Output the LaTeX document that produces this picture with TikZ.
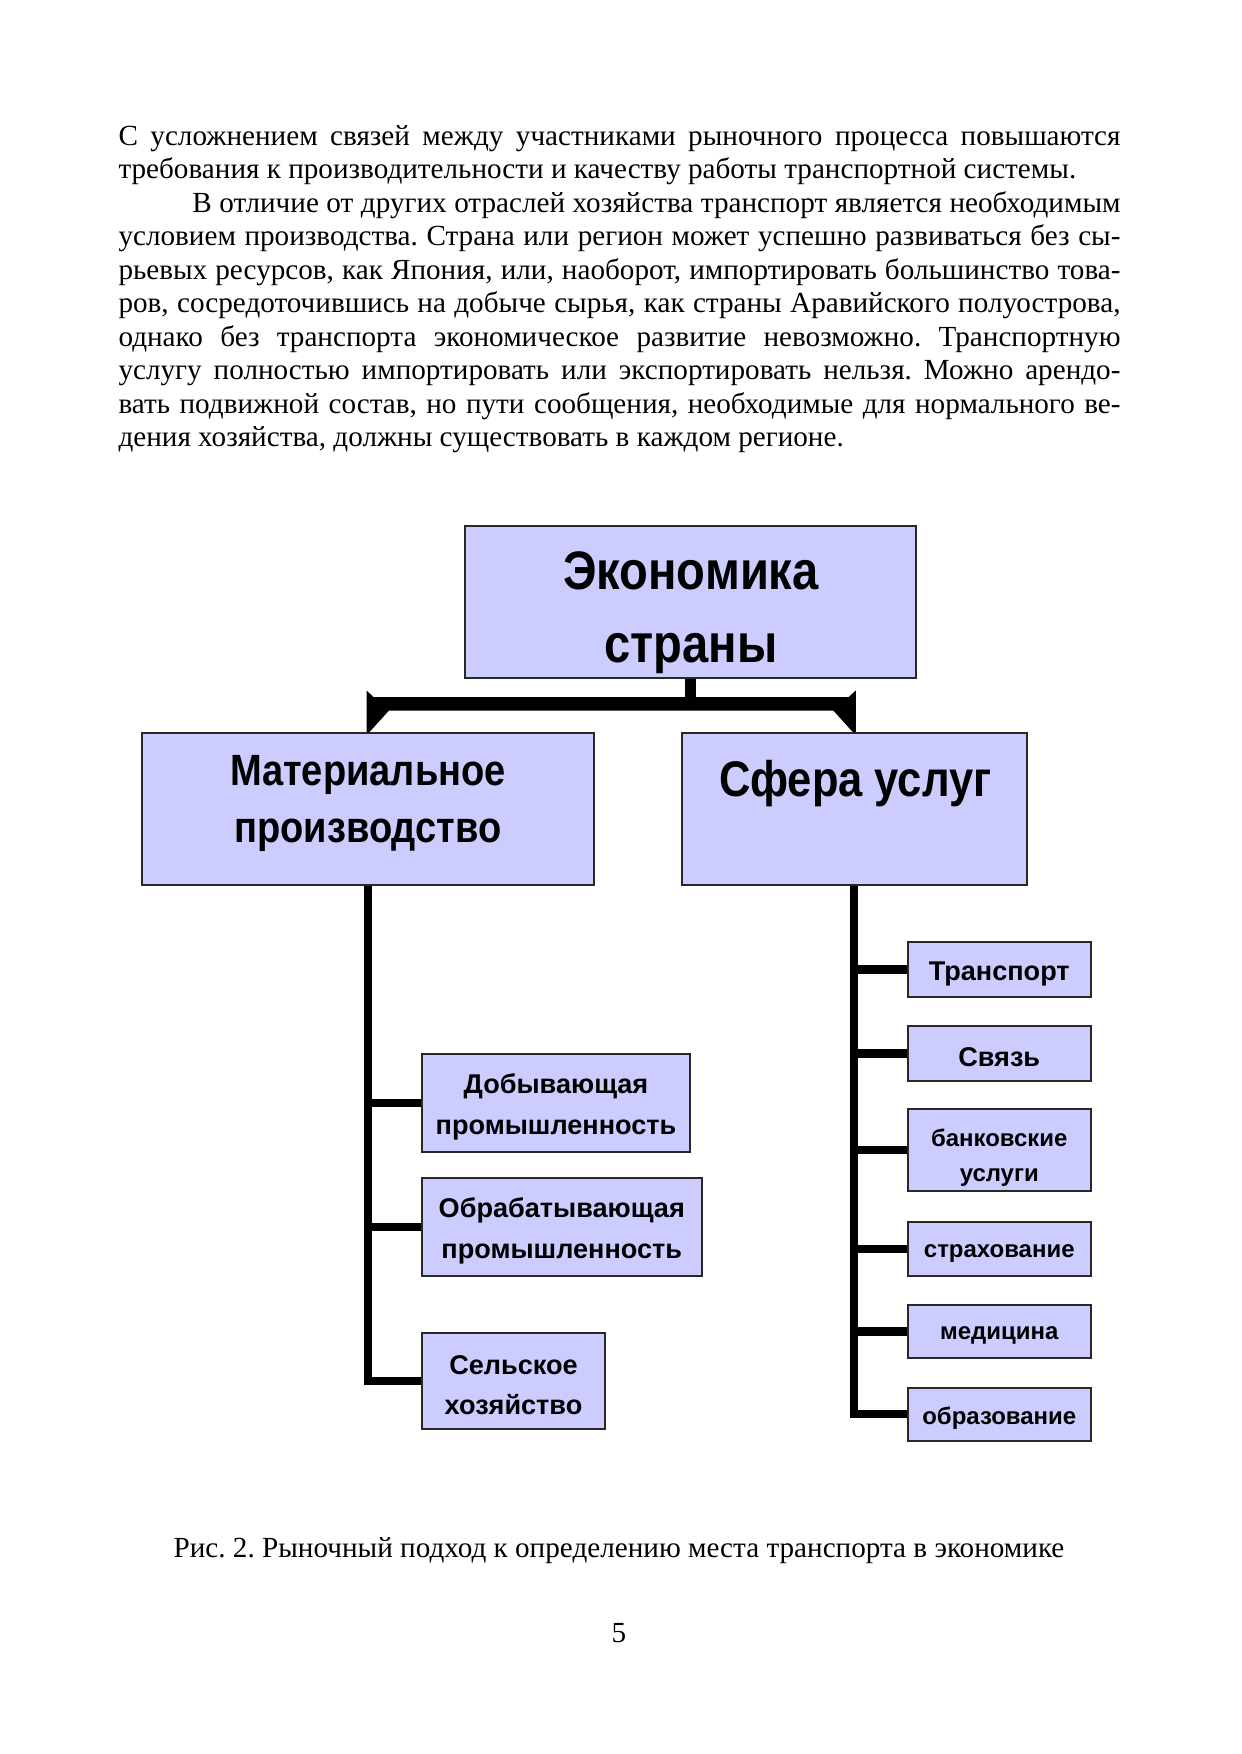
\documentclass[tikz,border=0pt]{standalone}
\usepackage{fontspec}
\setmainfont{Liberation Serif}
\newfontfamily\arialfam{Liberation Sans}
\newfontfamily\arialnar[FakeStretch=0.87]{Liberation Sans}
\usetikzlibrary{fit,calc}
\definecolor{boxfill}{RGB}{204,204,255}
\definecolor{boxline}{RGB}{40,40,40}
\newdimen\tw \tw=6.68in
\frenchspacing
\begin{document}
\begin{tikzpicture}[x=0.169333mm, y=-0.169333mm,
  box/.style={draw=boxline, fill=boxfill, line width=0.34mm, inner sep=0pt, rectangle},
  bigtxt/.style={inner sep=0pt, align=center},
  smalltxt/.style={inner sep=0pt, align=center, yshift=-0.7mm},
  conn/.style={draw=black, line width=1.4mm},
  stem/.style={draw=black, line width=1.8mm},
  bodytxt/.style={inner sep=0pt, font=\fontsize{14bp}{16.1bp}\selectfont}
]
\useasboundingbox (0,0) rectangle (1241,1754);
\fill[white] (0,0) rectangle (1241,1754);

% ---------- body text ----------
\node[bodytxt, anchor=base west] (para) at (118.1,145) {\vtop{%
\hbox to\tw{С усложнением связей между участниками рыночного процесса повышаются}
\hbox{требования к производительности и качеству работы транспортной системы.}
\hbox to\tw{\hskip1.25cm В отличие от других отраслей хозяйства транспорт является необходимым}
\hbox to\tw{условием производства. Страна или регион может успешно развиваться без сы-}
\hbox to\tw{рьевых ресурсов, как Япония, или, наоборот, импортировать большинство това-}
\hbox to\tw{ров, сосредоточившись на добыче сырья, как страны Аравийского полуострова,}
\hbox to\tw{однако без транспорта экономическое развитие невозможно. Транспортную}
\hbox to\tw{услугу полностью импортировать или экспортировать нельзя. Можно арендо-}
\hbox to\tw{вать подвижной состав, но пути сообщения, необходимые для нормального ве-}
\hbox{дения хозяйства, должны существовать в каждом регионе.}}};

% ---------- boxes ----------
\node[box, fit={(465,526) (916,678)}] (top) {};
\node[box, fit={(142,733) (594,885)}] (mat) {};
\node[box, fit={(681.5,733) (1027,885)}] (srv) {};
\node[box, fit={(422,1054) (690,1151.5)}] (dob) {};
\node[box, fit={(422,1178) (701.5,1275.5)}] (obr) {};
\node[box, fit={(422,1333) (605,1429)}] (sel) {};
\node[box, fit={(907.5,942) (1091,997)}] (trn) {};
\node[box, fit={(907.5,1026) (1091,1081)}] (svz) {};
\node[box, fit={(907.5,1109) (1091,1191)}] (bnk) {};
\node[box, fit={(907.5,1222) (1091,1276)}] (strh) {};
\node[box, fit={(907.5,1305) (1091,1358)}] (med) {};
\node[box, fit={(907.5,1387.5) (1091,1441)}] (obz) {};

% ---------- labels ----------
\node[bigtxt, font=\arialnar\bfseries\fontsize{26bp}{35bp}\selectfont] (topt) at (691,613) {Экономика\\страны};
\node[bigtxt, font=\arialnar\bfseries\fontsize{21bp}{27.5bp}\selectfont] (matt) at (368,803.5) {Материальное\\производство};
\node[bigtxt, font=\arialnar\bfseries\fontsize{24bp}{28bp}\selectfont] (srvt) at (855.5,784) {Сфера услуг};
\node[smalltxt, font=\arialfam\bfseries\fontsize{13bp}{19.3bp}\selectfont] (dobt) at (dob.center) {Добывающая\\промышленность};
\node[smalltxt, font=\arialfam\bfseries\fontsize{13bp}{19.3bp}\selectfont] (obrt) at (obr.center) {Обрабатывающая\\промышленность};
\node[smalltxt, font=\arialfam\bfseries\fontsize{13bp}{19.3bp}\selectfont] (selt) at (sel.center) {Сельское\\хозяйство};
\node[smalltxt, font=\arialfam\bfseries\fontsize{13bp}{16bp}\selectfont] (trnt) at (trn.center) {Транспорт};
\node[smalltxt, font=\arialfam\bfseries\fontsize{13bp}{16bp}\selectfont] (svzt) at (svz.center) {Связь};
\node[smalltxt, font=\arialfam\bfseries\fontsize{11.5bp}{16.6bp}\selectfont, yshift=-0.6mm] (bnkt) at (bnk.center) {банковские\\услуги};
\node[smalltxt, font=\arialfam\bfseries\fontsize{11.5bp}{14bp}\selectfont] (strt) at (strh.center) {страхование};
\node[smalltxt, font=\arialfam\bfseries\fontsize{11.5bp}{14bp}\selectfont] (medt) at (med.center) {медицина};
\node[smalltxt, font=\arialfam\bfseries\fontsize{11.5bp}{14bp}\selectfont] (obzt) at (obz.center) {образование};

% ---------- connectors ----------
\coordinate (barmid) at (0,700);
\draw[stem] (top.south) -- (top.south |- barmid);
\fill[black] ($(mat.north)+(-1.5,-41.5)$) -- ($(mat.north)+(5.5,-35)$)
  -- ($(srv.north)+(-5.5,-35)$) -- ($(srv.north)+(1.5,-41.5)$)
  -- ($(srv.north)+(1.5,0)$) -- ($(srv.north)+(-1.5,0)$)
  -- ($(srv.north)+(-21,-21.5)$) -- ($(mat.north)+(21,-21.5)$)
  -- ($(mat.north)+(1.5,0)$) -- ($(mat.north)+(-1.5,0)$) -- cycle;

\draw[conn] (mat.south) |- (sel.west);
\draw[conn] (mat.south |- dob.west) -- (dob.west);
\draw[conn] (mat.south |- obr.west) -- (obr.west);

\draw[conn] (srv.south) |- (obz.west);
\draw[conn] (srv.south |- trn.west) -- (trn.west);
\draw[conn] (srv.south |- svz.west) -- (svz.west);
\draw[conn] (srv.south |- bnk.west) -- (bnk.west);
\draw[conn] (srv.south |- strh.west) -- (strh.west);
\draw[conn] (srv.south |- med.west) -- (med.west);

% ---------- caption and page number ----------
\node[bodytxt, anchor=base] (cap) at (619,1557) {Рис. 2. Рыночный подход к определению места транспорта в экономике};
\node[bodytxt, anchor=base] (pnum) at (619,1642.7) {5};
\end{tikzpicture}
\end{document}
